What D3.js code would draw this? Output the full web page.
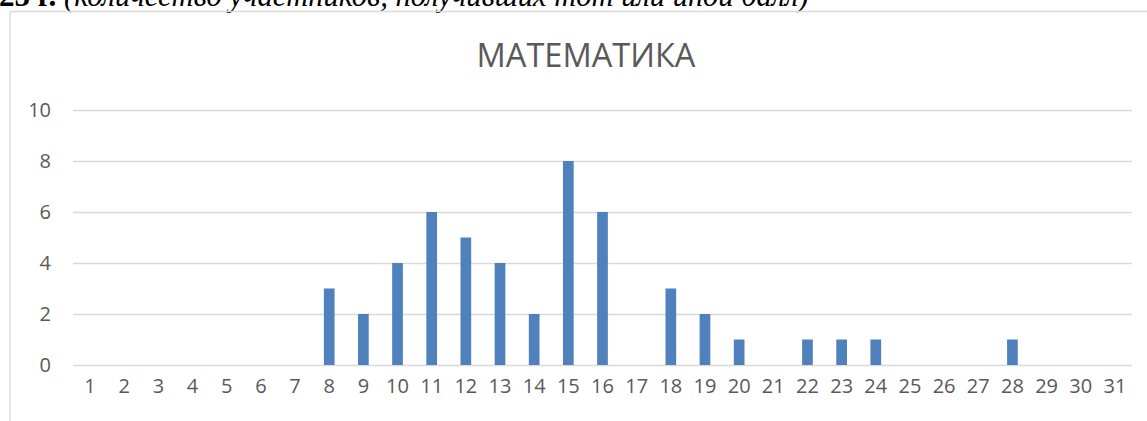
<!DOCTYPE html>
<html>
<head>
<meta charset="utf-8">
<script src="https://cdn.jsdelivr.net/npm/d3@7"></script>
<style>
  html, body { margin: 0; padding: 0; background: #fff; overflow: hidden; }
  svg { display: block; }
</style>
</head>
<body>
<div id="chart"></div>
<script>
// data
const categories = d3.range(1, 32).map(String);
const values = [0, 0, 0, 0, 0, 0, 0, 3, 2, 4, 6, 5, 4, 2, 8, 6, 0, 3, 2, 1, 0, 1, 1, 1, 0, 0, 0, 1, 0, 0, 0];
const yTicks = [0, 2, 4, 6, 8, 10];
const title = "МАТЕМАТИКА";
const captionBold = "25 г. ";
const captionItalic = "(количество участников, получивших тот или иной балл)";

const width = 1147, height = 421;
const plot = {left: 73, right: 1132, top: 110, bottom: 365};

const svg = d3.select("#chart").append("svg")
    .attr("width", width)
    .attr("height", height);

// cut-off caption from the page above the chart
const cap = svg.append("text")
    .attr("x", -1)
    .attr("y", 6)
    .attr("font-family", "'Liberation Serif', 'Times New Roman', serif")
    .attr("font-size", 24)
    .attr("fill", "#000");
const capB = cap.append("tspan").attr("font-weight", "bold").text(captionBold);
const capIt = cap.append("tspan").attr("font-style", "italic").text(captionItalic);

// fit the two parts: bold ends near x=64, italic spans to about x=810
{
    const wb = capB.node().getComputedTextLength();
    capB.attr("font-size", 24 * 65 / wb);
    const wi = capIt.node().getComputedTextLength();
    capIt.attr("font-size", 24 * 745 / wi);
}

// chart frame (only top and left edges are visible in the crop)
svg.append("line")
    .attr("x1", 10).attr("x2", width)
    .attr("y1", 11.5).attr("y2", 11.5)
    .attr("stroke", "#d9d9d9").attr("stroke-width", 1.3);
svg.append("line")
    .attr("x1", 10).attr("x2", 10)
    .attr("y1", 11.5).attr("y2", height)
    .attr("stroke", "#d9d9d9").attr("stroke-width", 1.3);

// title
const t = svg.append("text")
    .attr("x", 586)
    .attr("y", 67)
    .attr("text-anchor", "middle")
    .attr("font-family", "'Open Sans', sans-serif")
    .attr("font-size", 30)
    .attr("fill", "#595959")
    .text(title);
{
    const w = t.node().getComputedTextLength();
    t.attr("font-size", 30 * 219 / w);
}

const x = d3.scaleBand()
    .domain(categories)
    .range([plot.left, plot.right])
    .paddingInner(0.687)
    .paddingOuter(0.3435);

const y = d3.scaleLinear()
    .domain([0, 10])
    .range([plot.bottom, plot.top]);

// gridlines + y labels
const yAxis = d3.axisLeft(y)
    .tickValues(yTicks)
    .tickSize(-(plot.right - plot.left))
    .tickPadding(22);

const gy = svg.append("g")
    .attr("transform", `translate(${plot.left},0)`)
    .call(yAxis);
gy.select(".domain").remove();
gy.selectAll(".tick line")
    .attr("stroke", "#d9d9d9")
    .attr("stroke-width", 1.4);
gy.selectAll(".tick text")
    .attr("fill", "#595959")
    .attr("font-family", "'Open Sans', sans-serif")
    .attr("font-size", 20);

// bars
svg.append("g")
    .selectAll("rect")
    .data(values)
    .join("rect")
    .attr("x", (d, i) => x(categories[i]))
    .attr("width", x.bandwidth())
    .attr("y", d => y(d))
    .attr("height", d => y(0) - y(d))
    .attr("fill", "#4f81bd");

// x labels
const xAxis = d3.axisBottom(x)
    .tickSize(0)
    .tickPadding(14);

const gx = svg.append("g")
    .attr("transform", `translate(0,${plot.bottom})`)
    .call(xAxis);
gx.select(".domain").remove();
gx.selectAll(".tick text")
    .attr("fill", "#595959")
    .attr("font-family", "'Open Sans', sans-serif")
    .attr("font-size", 20);
</script>
</body>
</html>
